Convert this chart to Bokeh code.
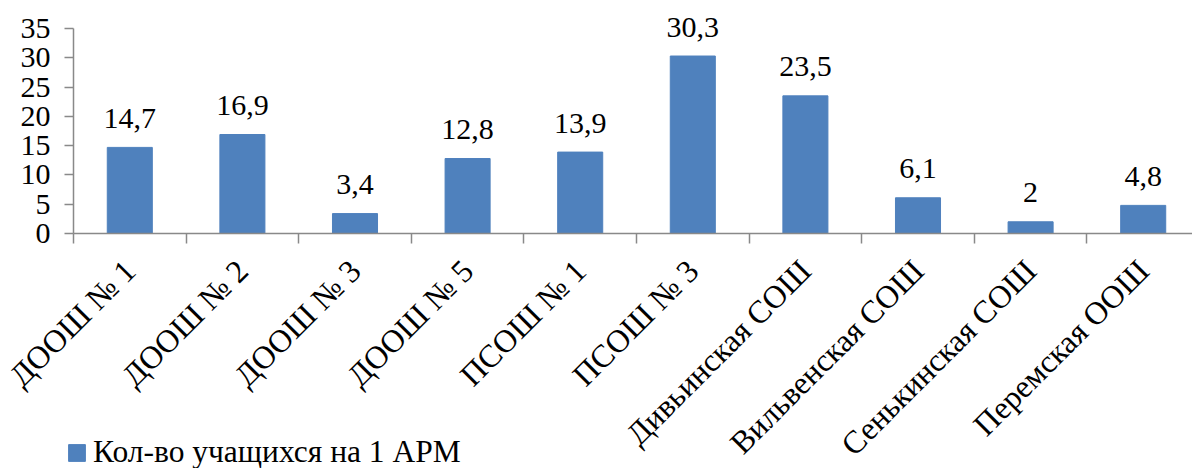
from bokeh.plotting import figure
from bokeh.models import ColumnDataSource, Range1d, FixedTicker, Legend, LegendItem
from bokeh.core.properties import value
from bokeh.embed import file_html
from bokeh.resources import INLINE

categories = ["ДООШ № 1", "ДООШ № 2", "ДООШ № 3", "ДООШ № 5", "ПСОШ № 1",
              "ПСОШ № 3", "Дивьинская СОШ", "Вильвенская СОШ", "Сенькинская СОШ", "Перемская ООШ"]
values = [14.7, 16.9, 3.4, 12.8, 13.9, 30.3, 23.5, 6.1, 2.0, 4.8]
labels = ["14,7", "16,9", "3,4", "12,8", "13,9", "30,3", "23,5", "6,1", "2", "4,8"]
series_name = "Кол-во учащихся на 1 АРМ"
y_ticks = [0, 5, 10, 15, 20, 25, 30, 35]

FONT = "'Liberation Serif', 'Times New Roman', serif"
BAR = "#4F81BD"
AXIS = "#898989"

# layout (pixels)
W, H = 1192, 468
X0_PX, Y0_PX, YTOP_PX = 73, 233, 28     # plot origin and top of value axis
CAT_PX = 112.6                           # width of one category
Y_MAX = 35
PX_PER_UNIT = (Y0_PX - YTOP_PX) / Y_MAX

n = len(categories)
x_start = -X0_PX / CAT_PX
x_end = (W - X0_PX) / CAT_PX
y_end = Y_MAX + YTOP_PX / PX_PER_UNIT
y_start = -(H - Y0_PX) / PX_PER_UNIT

xs = [i + 0.5 for i in range(n)]
src = ColumnDataSource(dict(x=xs, top=values, lab=labels))

p = figure(frame_width=W, frame_height=H, output_backend="svg", toolbar_location=None,
           x_range=Range1d(x_start, x_end), y_range=Range1d(y_start, y_end),
           min_border=0)
p.outline_line_color = None
p.xgrid.visible = False
p.ygrid.visible = False

r = p.vbar(x="x", top="top", width=0.4, source=src, fill_color=BAR, line_color=BAR)
p.text(x="x", y="top", text="lab", source=src, text_font=value(FONT), text_font_size="30px",
       text_align="center", text_baseline="alphabetic", y_offset=-29, text_color="black")

xa = p.xaxis[0]
xa.fixed_location = 0
xa.bounds = (0, n)
xa.ticker = FixedTicker(ticks=xs, minor_ticks=list(range(n + 1)))
xa.major_label_overrides = {x: c for x, c in zip(xs, categories)}
xa.major_label_orientation = 0.785398
xa.major_tick_out = 0
xa.major_tick_in = 0
xa.minor_tick_out = 10
xa.minor_tick_in = 0
xa.minor_tick_line_color = AXIS
xa.minor_tick_line_width = 1.5
xa.axis_line_color = AXIS
xa.axis_line_width = 1.5
xa.major_label_text_font = FONT
xa.major_label_text_font_size = "32px"
xa.major_label_text_color = "black"
xa.major_label_standoff = 22

ya = p.yaxis[0]
ya.fixed_location = 0
ya.ticker = FixedTicker(ticks=y_ticks)
ya.bounds = (0, Y_MAX)
ya.major_tick_out = 9
ya.major_tick_in = 0
ya.minor_tick_out = 0
ya.minor_tick_in = 0
ya.major_tick_line_color = AXIS
ya.major_tick_line_width = 1.5
ya.axis_line_color = AXIS
ya.axis_line_width = 1.5
ya.major_label_text_font = FONT
ya.major_label_text_font_size = "30px"
ya.major_label_text_color = "black"
ya.major_label_standoff = 14

legend = Legend(items=[LegendItem(label=series_name, renderers=[r])],
                location=(66, -2), orientation="horizontal",
                label_text_font=FONT, label_text_font_size="31.5px", label_text_color="black",
                glyph_width=21, glyph_height=21, label_standoff=6, padding=0, margin=0,
                border_line_color=None, background_fill_alpha=0, label_height=28)
p.add_layout(legend, "center")

open("out.html", "w").write(file_html(p, INLINE))
